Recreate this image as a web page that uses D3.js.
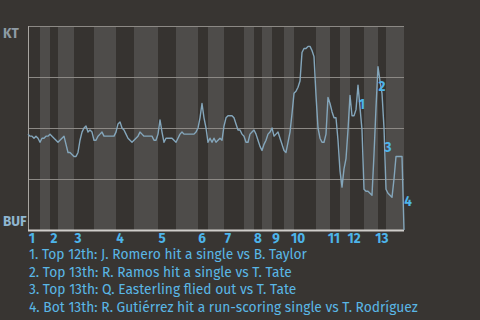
<!DOCTYPE html>
<html>
<head>
<meta charset="utf-8">
<script src="https://cdn.jsdelivr.net/npm/d3@7"></script>
<style>
  body { margin: 0; background: #383532; }
  svg { display: block; font-family: "Fira Sans", "Open Sans", sans-serif; }
</style>
</head>
<body>
<div id="chart"></div>
<script>
// plays per half-inning (top 1, bot 1, top 2, ...)
const halfInnings = [6, 5, 4, 8, 10, 11, 9, 12, 9, 11, 5, 8, 10, 5, 4, 5, 6, 5, 11, 7, 5, 5, 7, 7, 4, 9];
const innings = ["1", "2", "3", "4", "5", "6", "7", "8", "9", "10", "11", "12", "13"];

// KT win probability (%) after each play
const ktWinPct = [
  47, 46, 46, 45, 46, 45, 43, 45, 45, 46, 46, 47, 46, 45, 44, 43, 44, 45, 46, 42,
  38, 38, 37, 36, 36, 38, 44, 48, 50, 51, 48, 49, 48, 44, 44, 46, 47, 48, 46, 46,
  46, 46, 46, 46, 48, 52, 53, 50, 49, 47, 45, 44, 43, 44, 45, 46, 48, 47, 46, 46,
  46, 46, 46, 44, 44, 47, 54, 48, 43, 45, 45, 45, 45, 44, 43, 45, 47, 48, 47, 47,
  47, 47, 47, 47, 48, 50, 55, 62, 55, 50, 43, 45, 43, 45, 43, 44, 45, 44, 51, 55,
  56, 56, 56, 55, 52, 49, 49, 47, 46, 43, 43, 47, 48, 49, 47, 44, 41, 39, 42, 44,
  47, 48, 50, 46, 47, 48, 45, 42, 39, 38, 43, 48, 57, 67, 68, 70, 73, 87, 89, 89,
  90, 90, 88, 85, 66, 50, 45, 43, 43, 47, 65, 62, 58, 55, 55, 44, 29, 21, 30, 35,
  49, 66, 56, 56, 59, 71, 60, 49, 20, 19, 19, 18, 17, 37, 60, 80, 73, 67, 50, 20,
  18, 17, 16, 25, 36, 36, 36, 36, 0
];

// key plays: index into ktWinPct
const keyPlays = [165, 175, 178, 188];
const keyLabels = ["1", "2", "3", "4"];
const notes = [
  "1. Top 12th: J. Romero hit a single vs B. Taylor",
  "2. Top 13th: R. Ramos hit a single vs T. Tate",
  "3. Top 13th: Q. Easterling flied out vs T. Tate",
  "4. Bot 13th: R. Gutiérrez hit a run-scoring single vs T. Rodríguez"
];

const width = 480, height = 320;
const plot = { left: 28, right: 404, top: 26, bottom: 230 };

const svg = d3.select("#chart").append("svg")
  .attr("width", width)
  .attr("height", height);

svg.append("rect").attr("width", width).attr("height", height).attr("fill", "#383532");

const total = d3.sum(halfInnings);
const x = d3.scaleLinear().domain([0, total]).range([plot.left, plot.right]);
const y = d3.scaleLinear().domain([0, 100]).range([plot.bottom, plot.top]);

// half-inning bands
const starts = d3.cumsum([0].concat(halfInnings)).slice(0, halfInnings.length);
svg.append("g").selectAll("rect")
  .data(halfInnings)
  .join("rect")
  .attr("x", (d, i) => x(starts[i]))
  .attr("y", plot.top)
  .attr("width", (d, i) => x(starts[i] + d) - x(starts[i]))
  .attr("height", plot.bottom - plot.top)
  .attr("fill", (d, i) => i % 2 ? "#4e4c4a" : "#363330");

// gridlines
svg.append("g").selectAll("line")
  .data([25, 50, 75, 100])
  .join("line")
  .attr("x1", plot.left).attr("x2", plot.right)
  .attr("y1", d => y(d) + 0.5).attr("y2", d => y(d) + 0.5)
  .attr("stroke", "#8c8985").attr("stroke-width", 1);

// frame
svg.append("line")
  .attr("x1", plot.left + 0.5).attr("x2", plot.left + 0.5)
  .attr("y1", plot.top).attr("y2", plot.bottom)
  .attr("stroke", "#a8a5a1");
svg.append("line")
  .attr("x1", plot.left).attr("x2", plot.right)
  .attr("y1", plot.bottom + 0.5).attr("y2", plot.bottom + 0.5)
  .attr("stroke", "#cfcdca").attr("stroke-width", 2);

// win probability line
const line = d3.line()
  .x((d, i) => x(i))
  .y(d => y(d));

svg.append("path")
  .datum(ktWinPct)
  .attr("d", line)
  .attr("fill", "none")
  .attr("stroke", "#84a6bb")
  .attr("stroke-width", 1.4)
  .attr("stroke-linejoin", "round");

// key play labels
const labelDy = [19, 19, 19, -29];
svg.append("g").selectAll("text")
  .data(keyPlays)
  .join("text")
  .attr("x", d => x(d) + 4)
  .attr("y", (d, i) => y(ktWinPct[d]) + labelDy[i])
  .attr("dy", "0.35em")
  .attr("text-anchor", "middle")
  .attr("font-size", 13.5)
  .attr("font-weight", "bold")
  .attr("fill", "#4db4ea")
  .text((d, i) => keyLabels[i]);

// team labels
svg.append("text")
  .attr("x", 3).attr("y", 38)
  .attr("font-size", 13.5).attr("font-weight", "bold")
  .attr("fill", "#8e9ba4")
  .text("KT");
svg.append("text")
  .attr("x", 3).attr("y", 226)
  .attr("font-size", 13.5).attr("font-weight", "bold")
  .attr("fill", "#8fb5d0")
  .text("BUF");

// inning numbers
svg.append("g").selectAll("text")
  .data(innings)
  .join("text")
  .attr("x", (d, i) => x(starts[i * 2]) + 4)
  .attr("y", 243)
  .attr("text-anchor", "middle")
  .attr("font-size", 13.5)
  .attr("font-weight", "bold")
  .attr("fill", "#4db4ea")
  .text(d => d);

// notes
svg.append("g").selectAll("text")
  .data(notes)
  .join("text")
  .attr("x", 29)
  .attr("y", (d, i) => 259 + i * 17.7)
  .attr("font-size", 13.8)
  .attr("fill", "#5ab7e6")
  .text(d => d);
</script>
</body>
</html>
